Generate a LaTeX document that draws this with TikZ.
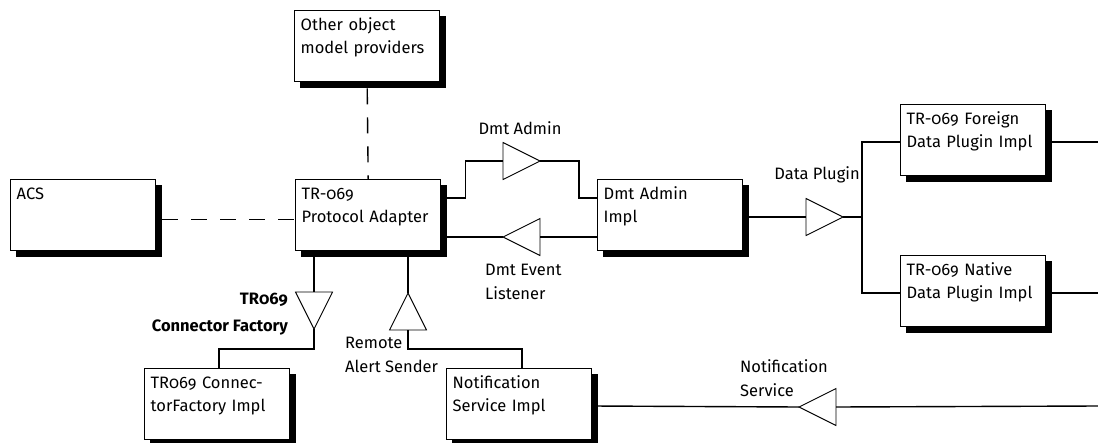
\documentclass[tikz,border=0pt]{standalone}
\usepackage{fontspec}
\setmainfont{Fira Sans}[Numbers=OldStyle]
\usetikzlibrary{positioning,shapes.geometric,backgrounds}

\begin{document}
\begin{tikzpicture}[x=1pt,y=-1pt,
  unit/.style={draw,line width=1.4pt,fill=white,anchor=north west,
    text width=133pt,inner xsep=6pt,inner ysep=3pt,text height=16.5pt,text depth=48.5pt,
    align=left,font=\fontsize{16.5}{23}\selectfont},
  castshadow/.style={draw=black,line width=6pt,line join=miter},
  iface/.style={isosceles triangle,isosceles triangle stretches,draw,line width=0.9pt,
    fill=white,minimum width=37pt,minimum height=37pt,inner sep=0pt,outer sep=0pt},
  wire/.style={line width=1.4pt},
  dep/.style={wire,dash pattern=on 16pt off 13pt},
  lbl/.style={inner sep=0pt,align=left,font=\fontsize{16.5}{24}\selectfont}]

\useasboundingbox (0,0) rectangle (1098,442);

\node[unit] (other) at (294,10) {Other object\\model providers};
\node[unit] (acs) at (10,179) {ACS};
\node[unit] (adapter) at (295,179) {TR-069\\Protocol Adapter};
\node[unit] (dmtimpl) at (597,179) {Dmt Admin\\Impl};
\node[unit] (foreign) at (900,104) {TR-069 Foreign\\Data Plugin Impl};
\node[unit] (native) at (900,255) {TR-069 Native\\Data Plugin Impl};
\node[unit] (connimpl) at (144,368) {TR069 Connec-\\torFactory Impl};
\node[unit] (notifimpl) at (446,368) {Notification\\Service Impl};

\begin{scope}[on background layer]
\foreach \unitname in {other,acs,adapter,dmtimpl,foreign,native,connimpl,notifimpl}
  \draw[castshadow] ([xshift=3pt,yshift=-6pt]\unitname.north east) |- ([xshift=6pt,yshift=-3pt]\unitname.south west);
\end{scope}

\node[iface,shape border rotate=0,anchor=lower side] (tadmin) at (503,161) {};
\node[iface,shape border rotate=180,anchor=apex] (tevent) at (503,237) {};
\node[iface,shape border rotate=0,anchor=lower side] (tplugin) at (806,217) {};
\node[iface,shape border rotate=-90,anchor=lower side] (tfactory) at (314,292) {};
\node[iface,shape border rotate=90,anchor=apex] (tremote) at (408,293) {};
\node[iface,shape border rotate=180,anchor=apex] (tnotif) at (799,407) {};

\coordinate (foreignout) at (1098,142);
\coordinate (nativeout) at (1098,293);
\coordinate (notifout) at (1098,406);

\draw[dep] ([yshift=-6pt]other.south) -- (adapter.north);
\draw[dep] ([xshift=6pt,yshift=-4pt]acs.east) -- ([yshift=-4pt]adapter.west);
\draw[wire] ([yshift=-19pt]adapter.north east) -- ++(24,0) |- (tadmin.lower side);
\draw[wire] (tadmin.apex) -- ++(39,0) |- ([yshift=-19pt]dmtimpl.north west);
\draw[wire] ([yshift=-58pt]dmtimpl.north west) -- (tevent.lower side);
\draw[wire] (tevent.apex) -- ([yshift=-58pt]adapter.north east);
\draw[wire] ([yshift=-38pt]dmtimpl.north east) -- (tplugin.lower side);
\draw[wire] (tplugin.apex) -- ++(19,0) coordinate (fork) |- ([yshift=-38pt]foreign.north west);
\draw[wire] (fork) |- ([yshift=-38pt]native.north west);
\draw[wire] ([yshift=-38pt]foreign.north east) -- (foreignout);
\draw[wire] ([yshift=-38pt]native.north east) -- (nativeout);
\draw[wire] ([xshift=19pt]adapter.south west) -- (tfactory.lower side);
\draw[wire] (tfactory.apex) -- ++(0,20) -| ([xshift=75pt]connimpl.north west);
\draw[wire] ([xshift=113pt]adapter.south west) -- (tremote.apex);
\draw[wire] (tremote.lower side) -- ++(0,19) -| ([xshift=76pt]notifimpl.north west);
\draw[wire] ([yshift=-38pt]notifimpl.north east) -- (tnotif.apex);
\draw[wire] (tnotif.lower side) -- (notifout);

\node[lbl] (ladmin) at (520,128) {Dmt Admin};
\node[lbl,anchor=west] (levent) at (485,282) {Dmt Event\\Listener};
\node[lbl] (lplugin) at (817,175) {Data Plugin};
\node[lbl,anchor=west] (lnotif) at (740,378) {Notification\\Service};
\node[lbl,anchor=west] (lremote) at (345,355) {Remote\\Alert Sender};
\node[lbl,anchor=east,align=right,font=\fontsize{16.5}{27}\selectfont\bfseries] (lfactory) at (288,314) {TR069\\Connector Factory};
\end{tikzpicture}
\end{document}
